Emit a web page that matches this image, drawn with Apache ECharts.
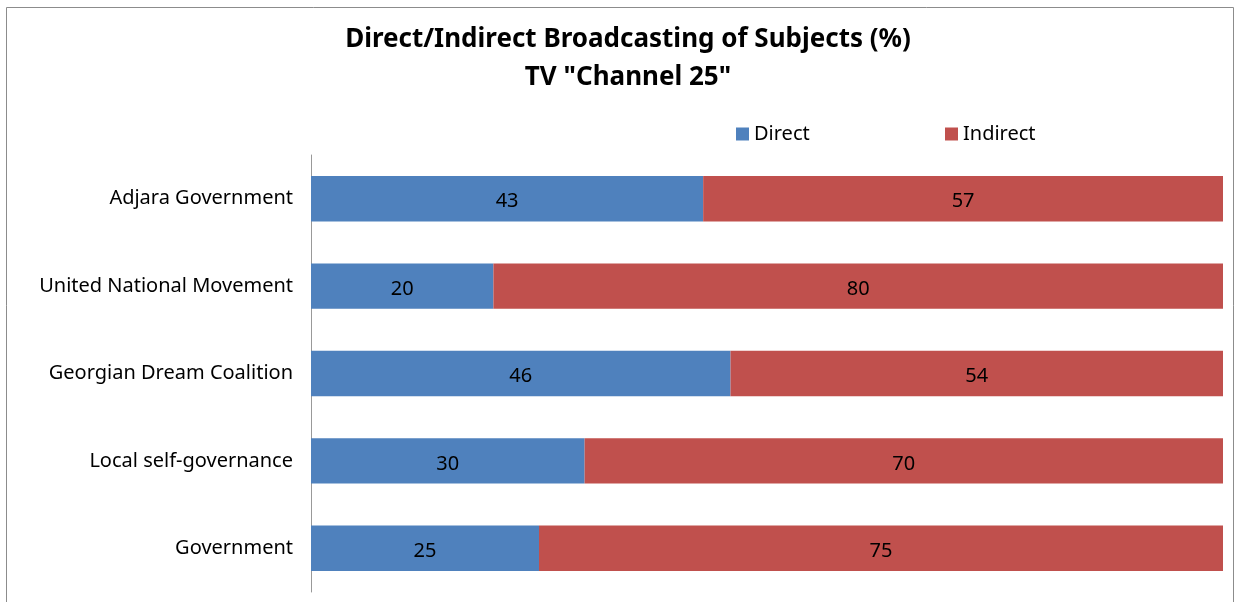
<!doctype html>
<html lang="en">
<head>
    <meta charset="UTF-8">
    <title>Direct/Indirect Broadcasting of Subjects</title>
    <script src="https://cdn.jsdelivr.net/npm/echarts@6/dist/echarts.min.js"></script>
    <style>
        html, body { margin: 0; padding: 0; background: #fff; }
        #chart { width: 1237px; height: 602px; }
    </style>
</head>
<body>
<div id="chart"></div>
<script type="text/javascript">
    // data
    var categories = ['Adjara Government', 'United National Movement', 'Georgian Dream Coalition', 'Local self-governance', 'Government'];
    var direct = [43, 20, 46, 30, 25];
    var indirect = [57, 80, 54, 70, 75];

    var font = '"Noto Sans", "DejaVu Sans", sans-serif';
    var myChart = echarts.init(document.getElementById('chart'));

    var option = {
        animation: false,
        backgroundColor: '#fff',
        title: {
            text: 'Direct/Indirect Broadcasting of Subjects (%)\nTV "Channel 25"',
            left: 623,
            textAlign: 'center',
            top: 16,
            textStyle: { fontFamily: font, fontSize: 26, fontWeight: 'bold', color: '#000', lineHeight: 38 }
        },
        legend: [
            {
                data: ['Direct'], left: 731, top: 119,
                itemWidth: 13, itemHeight: 13, icon: 'rect', itemGap: 8,
                textStyle: { fontFamily: font, fontSize: 20, color: '#000' }
            },
            {
                data: ['Indirect'], left: 940, top: 119,
                itemWidth: 13, itemHeight: 13, icon: 'rect', itemGap: 8,
                textStyle: { fontFamily: font, fontSize: 20, color: '#000' }
            }
        ],
        grid: { left: 311, right: 14, top: 155, bottom: 10 },
        xAxis: {
            type: 'value', min: 0, max: 100,
            show: false
        },
        yAxis: {
            type: 'category',
            data: categories,
            inverse: true,
            axisLine: { show: true, lineStyle: { color: '#999', width: 1 } },
            axisTick: { show: false },
            axisLabel: { fontFamily: font, fontSize: 20, color: '#000', margin: 18, padding: [6, 0, 0, 0] }
        },
        series: [
            {
                name: 'Direct', type: 'bar', stack: 'all', data: direct,
                barCategoryGap: '48%',
                itemStyle: { color: '#4F81BD' },
                label: { show: true, position: 'inside', offset: [0, 3], fontFamily: font, fontSize: 20, color: '#000' }
            },
            {
                name: 'Indirect', type: 'bar', stack: 'all', data: indirect,
                barCategoryGap: '48%',
                itemStyle: { color: '#C0504D' },
                label: { show: true, position: 'inside', offset: [0, 3], fontFamily: font, fontSize: 20, color: '#000' }
            }
        ],
        graphic: [{
            type: 'rect',
            shape: { x: 6.5, y: 7.5, width: 1227, height: 620 },
            style: { fill: 'none', stroke: '#8c8c8c', lineWidth: 1 },
            silent: true
        }]
    };
    myChart.setOption(option);
</script>
</body>
</html>
